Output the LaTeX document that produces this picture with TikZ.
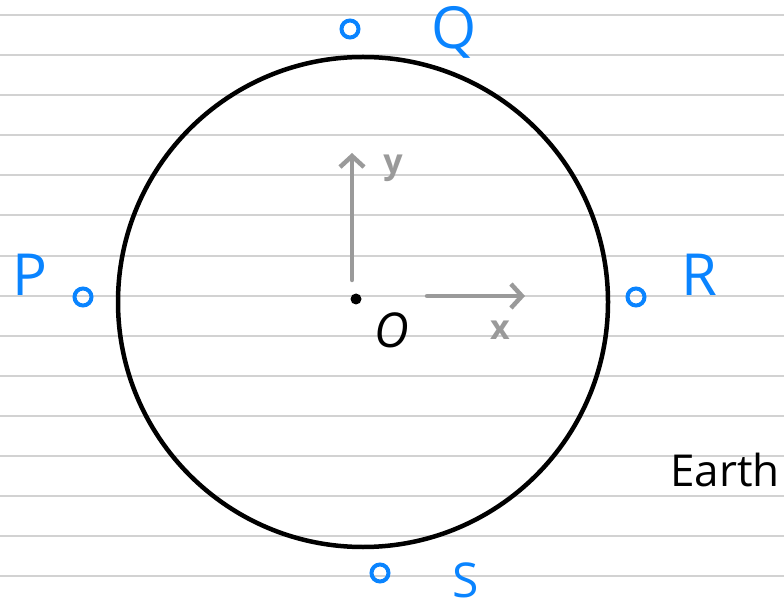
\documentclass[tikz,border=0pt]{standalone}
\usepackage{fontspec}
\setmainfont{Open Sans}
\usetikzlibrary{arrows.meta}
\definecolor{ruled}{HTML}{D2D2D2}
\definecolor{inkblue}{HTML}{0A84FF}
\definecolor{axisgray}{HTML}{9A9A9A}
\tikzset{
  ruleline/.style={ruled, line width=2pt},
  station/.style={circle, draw=inkblue, line width=4pt, minimum size=17pt, inner sep=0pt},
  ptlabel/.style={inkblue, inner sep=0pt, font=\fontsize{58}{58}\selectfont},
  axis/.style={axisgray, line width=4.5pt, line cap=round, -{Straight Barb[length=11pt,width=24pt,line width=4.5pt]}},
  axlabel/.style={axisgray, inner sep=0pt, font=\bfseries\fontsize{34}{34}\selectfont},
}
\begin{document}
\begin{tikzpicture}[x=1pt,y=-1pt]
\useasboundingbox (0,0) rectangle (784,609);
\fill[white] (0,0) rectangle (784,609);
\foreach \k in {0,...,14} {
  \draw[ruleline] (0,15+40.1*\k) -- (784,15+40.1*\k);
}
% Earth
\node[circle, draw=black, line width=4.5pt, minimum size=490pt, inner sep=0pt] (earth) at (363,302) {};
% origin
\node[circle, fill=black, minimum size=11pt, inner sep=0pt] (o) at (356,299) {};
\node[inner sep=0pt, font=\fontsize{48}{48}\selectfont\itshape] (olab) at (392,330) {O};
% axes
\coordinate (ybase) at (352,280);
\coordinate (ytip) at (352,153);
\coordinate (xbase) at (427,296);
\coordinate (xtip) at (525,296);
\draw[axis] (ybase) -- (ytip);
\draw[axis] (xbase) -- (xtip);
\node[axlabel] (ylab) at (393,168) {y};
\node[axlabel] (xlab) at (500,330) {x};
% stations
\node[station] (p) at (83,297) {};
\node[station] (q) at (350,29) {};
\node[station] (r) at (636,297) {};
\node[station] (s) at (380,573) {};
\node[ptlabel] (plab) at (30,275) {P};
\node[ptlabel] (qlab) at (454,32) {Q};
\node[ptlabel] (rlab) at (699,275) {R};
\node[ptlabel, font=\fontsize{48}{48}\selectfont] (slab) at (466,580) {S};
\node[inner sep=0pt, anchor=west, font=\fontsize{44}{44}\selectfont] (earthlab) at (670,470) {Earth};
\end{tikzpicture}
\end{document}
